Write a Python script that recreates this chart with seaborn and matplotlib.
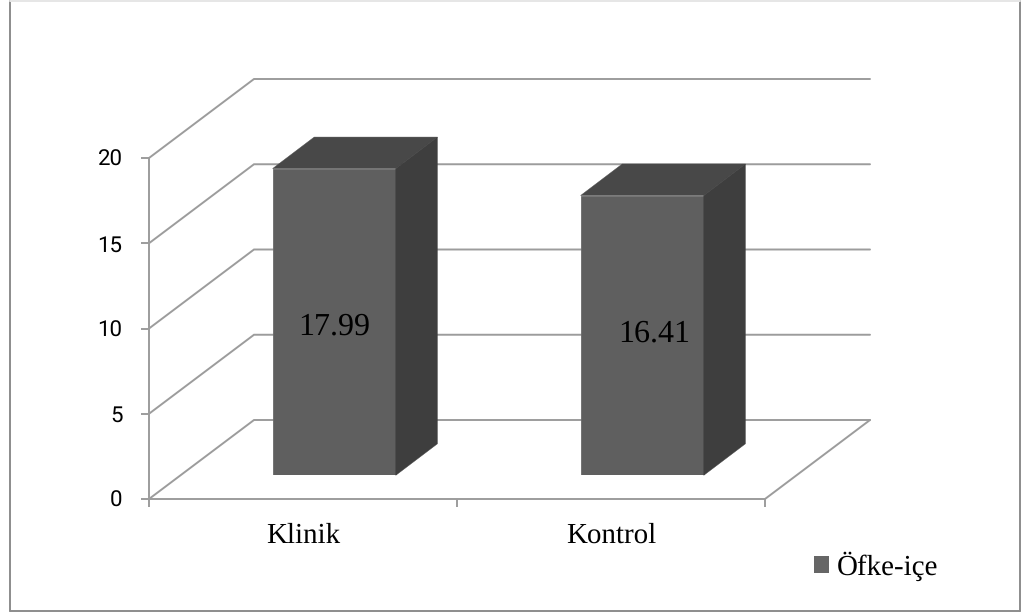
import matplotlib
matplotlib.use("Agg")
import matplotlib.pyplot as plt
from matplotlib.lines import Line2D
from matplotlib.patches import Patch, Polygon
import seaborn as sns

groups = ["Klinik", "Kontrol"]
values = [17.99, 16.41]
series_name = "Öfke-içe"
y_ticks = [0, 5, 10, 15, 20]

W, H = 1021, 614
GRID = "#9c9c9c"
FRONT, TOP, SIDE = "#5f5f5f", "#484848", "#3e3e3e"
SERIF = "Liberation Serif"

# Hand-placed value labels, nudged from each bar's centre (pixels, x right / y up)
label_nudges = [(0, -5), (12, 2)]

sns.set_theme(style="white")
plt.rcParams["font.family"] = [SERIF, "DejaVu Sans"]
plt.rcParams["text.hinting"] = "none"

fig = plt.figure(figsize=(W / 100, H / 100), dpi=100, facecolor="white")


def px_rect(left, bottom, width, height):
    """Axes rectangle given in pixels, measured from the top-left corner."""
    return [left / W, (H - bottom) / H, width / W, height / H]


# Front plane of the 3D frame: value axis and category axis
ax = fig.add_axes(px_rect(149, 499, 616, 341), facecolor="none")
ax.set_xlim(-0.5, 1.5)
ax.set_ylim(0, 20)
for name in ("top", "right"):
    ax.spines[name].set_visible(False)
for name in ("left", "bottom"):
    ax.spines[name].set_color(GRID)
    ax.spines[name].set_linewidth(1.4)
ax.set_yticks(y_ticks)
ax.set_yticklabels([str(v) for v in y_ticks], family="Roboto", fontsize=16, color="black")
ax.set_xticks([-0.5, 0.5, 1.5])
ax.set_xticklabels([])
ax.set_xticks([0, 1], minor=True)
ax.set_xticklabels(groups, minor=True, fontsize=20.9, color="black")
ax.tick_params(axis="both", which="major", length=6, width=1.4, color=GRID, left=True, bottom=True)
ax.tick_params(axis="y", pad=13)
ax.tick_params(axis="x", which="minor", length=0, pad=17)

# Side wall, back wall and floor edges, offset by the frame depth
depth_x = 105 / 308
depth_y = 79 / 17.05
for v in y_ticks:
    ax.add_line(Line2D([-0.5, -0.5 + depth_x, 1.5 + depth_x], [v, v + depth_y, v + depth_y],
                       color=GRID, lw=1.4, clip_on=False, solid_joinstyle="miter"))
ax.add_line(Line2D([1.5, 1.5 + depth_x], [0, depth_y], color=GRID, lw=1.4, clip_on=False))

# Bars stand inside the frame, so their axes is shifted right and upward
bar_ax = fig.add_axes(px_rect(149 + 31.2, 499 - 23.7, 616, 341), facecolor="none")
sns.barplot(x=groups, y=values, color=FRONT, saturation=1, width=0.4, ax=bar_ax,
            edgecolor="#6a6a6a", linewidth=0.6)
bar_ax.set_xlim(-0.5, 1.5)
bar_ax.set_ylim(0, 20)
bar_ax.axis("off")

bar_dx = 41.6 / 308
bar_dy = 31.5 / 17.05
bars = bar_ax.containers[0]
for bar, value, (nudge_x, nudge_y) in zip(bars, values, label_nudges):
    x0, x1 = bar.get_x(), bar.get_x() + bar.get_width()
    top = bar.get_height()
    bar_ax.add_patch(Polygon([(x0, top), (x1, top), (x1 + bar_dx, top + bar_dy), (x0 + bar_dx, top + bar_dy)],
                             closed=True, facecolor=TOP, edgecolor=TOP, lw=0.3, clip_on=False))
    bar_ax.add_patch(Polygon([(x1, 0), (x1, top), (x1 + bar_dx, top + bar_dy), (x1 + bar_dx, bar_dy)],
                             closed=True, facecolor=SIDE, edgecolor=SIDE, lw=0.3, clip_on=False))
    bar_ax.annotate(f"{value:.2f}", xy=((x0 + x1) / 2, top / 2), xytext=(nudge_x, nudge_y),
                    textcoords="offset pixels", ha="center", va="center", fontsize=23, color="black")

fig.legend(handles=[Patch(facecolor="#666666", edgecolor="none", label=series_name)],
           loc="lower left", bbox_to_anchor=(814 / W, (H - 581) / H), frameon=False,
           fontsize=20.9, labelcolor="black", borderpad=0, borderaxespad=0,
           handlelength=0.52, handleheight=0.52, handletextpad=0.25)

# Outer chart frame, its top edge much fainter than the others
frame = [((9.5, 0.5), (9.5, 610.5)), ((9.5, 610.5), (1019.5, 610.5)), ((1019.5, 610.5), (1019.5, 0.5))]
for (xa, ya), (xb, yb) in frame:
    fig.add_artist(Line2D([xa / W, xb / W], [1 - ya / H, 1 - yb / H], color="#8c8c8c", lw=1.4,
                          transform=fig.transFigure))
fig.add_artist(Line2D([9.5 / W, 1019.5 / W], [1 - 0.5 / H, 1 - 0.5 / H], color="#e6e6e6", lw=1.4,
                      transform=fig.transFigure))

fig.savefig("out.png", dpi=100, facecolor="white")
